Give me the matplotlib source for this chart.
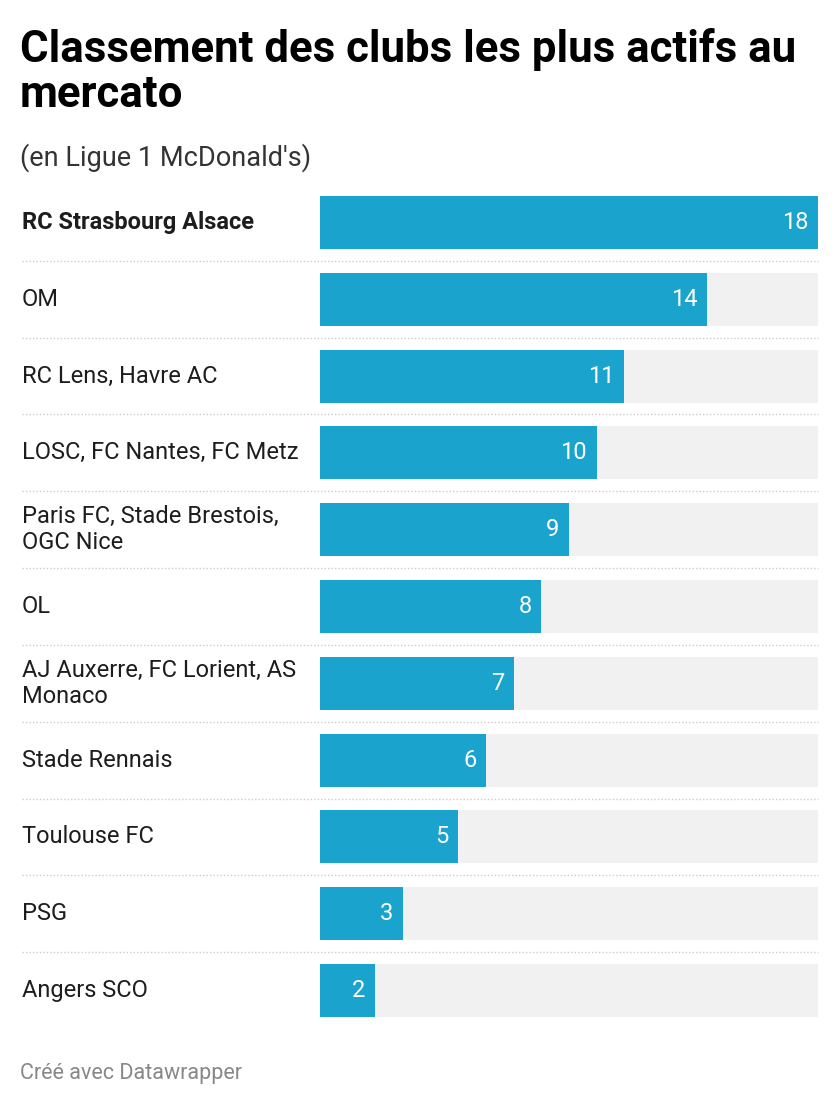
import matplotlib.pyplot as plt
from matplotlib.transforms import blended_transform_factory
from matplotlib.lines import Line2D

clubs = ["RC Strasbourg Alsace", "OM", "RC Lens, Havre AC", "LOSC, FC Nantes, FC Metz",
         "Paris FC, Stade Brestois,\nOGC Nice", "OL", "AJ Auxerre, FC Lorient, AS\nMonaco",
         "Stade Rennais", "Toulouse FC", "PSG", "Angers SCO"]
transfers = [18, 14, 11, 10, 9, 8, 7, 6, 5, 3, 2]

plt.rcParams["font.family"] = "Roboto"
W, H = 840, 1106
fig = plt.figure(figsize=(W / 100, H / 100), dpi=100)

# bar area in pixels
left, right, top, bottom = 320, 818, 184, 1029
ax = fig.add_axes([left / W, 1 - bottom / H, (right - left) / W, (bottom - top) / H])
n = len(clubs)
ymax = max(transfers)
ax.barh(range(n), [ymax] * n, height=0.69, color="#f1f1f1")
ax.barh(range(n), transfers, height=0.69, color="#1aa3cc")
ax.set_xlim(0, ymax)
ax.set_ylim(n - 0.5, -0.5)
ax.axis("off")

for i, v in enumerate(transfers):
    ax.text(v - 0.35, i, str(v), ha="right", va="center", color="white", fontsize=17)

trans = blended_transform_factory(fig.transFigure, ax.transData)
for i, c in enumerate(clubs):
    fig.text(22 / W, i, c, transform=trans, ha="left", va="center", fontsize=17,
             color="#1d1d1d", fontweight="bold" if i == 0 else "normal", linespacing=1.15)
for i in range(n - 1):
    fig.add_artist(Line2D([22 / W, right / W], [i + 0.5, i + 0.5], transform=trans,
                          color="#cccccc", lw=1, ls=(0, (1, 1.5))))

fig.text(20 / W, 1 - 72 / H, "Classement des clubs les plus actifs au\nmercato",
         ha="left", va="center", fontsize=31.5, fontweight="bold", color="#000000", linespacing=1.1)
fig.text(20 / W, 1 - 158 / H, "(en Ligue 1 McDonald's)", ha="left", va="center",
         fontsize=19.5, color="#333333")
fig.text(20 / W, 1 - 1073 / H, "Créé avec Datawrapper", ha="left", va="center",
         fontsize=15.5, color="#888888")

fig.savefig("out.png", dpi=100, facecolor="white")
